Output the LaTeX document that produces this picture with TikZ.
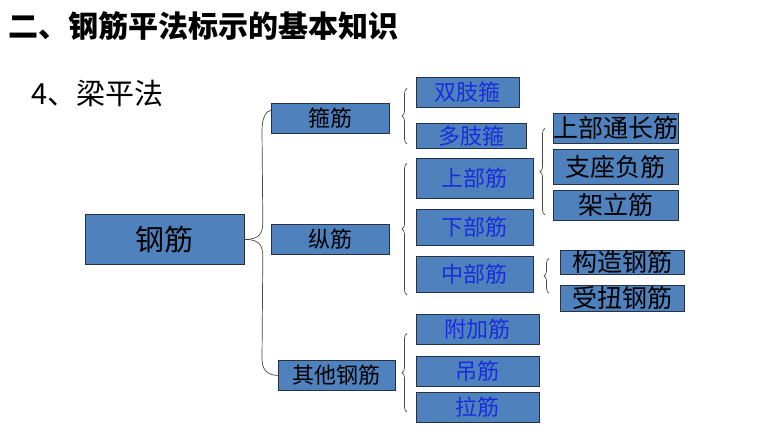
\documentclass[tikz,border=0pt]{standalone}
\usepackage{fontspec}
\setmainfont{Noto Sans CJK SC}
\usetikzlibrary{positioning,calc,decorations.pathreplacing}
\definecolor{blauquadre}{RGB}{79,129,189}
\definecolor{blautext}{RGB}{25,45,220}
\definecolor{vora}{RGB}{40,50,70}
\definecolor{clau}{RGB}{70,70,70}
\newcommand{\mida}[1]{\fontsize{#1}{#1}\selectfont}
\tikzset{
    Caixa/.style={draw=vora, line width=0.8pt, fill=blauquadre, rectangle, inner sep=0pt, anchor=north west},
    Arrel/.style={Caixa, font=\mida{29}},
    Grup/.style={Caixa, font=\mida{22}},
    Tipus/.style={Caixa, text=blautext, font=\mida{22}},
    Detall/.style={Caixa, font=\mida{25}},
    Clau/.style={draw=clau, line width=0.7pt},
    ClauPetita/.style={Clau, decorate, decoration={brace, amplitude=5pt}}
    }
\begin{document}
\begin{tikzpicture}[x=1pt, y=-1pt]
\useasboundingbox (0,0) rectangle (760,431);

\node[font=\mida{30}\bfseries, anchor=west, inner sep=0pt] (Titol) at (8,26) {二、钢筋平法标示的基本知识};
\node[font=\mida{29}, anchor=west, inner sep=0pt] (Subtitol) at (31,93) {4、梁平法};

\node[Arrel, minimum width=159pt, minimum height=50pt] (Rebar) at (85,214) {钢筋};
\node[Grup, minimum width=118pt, minimum height=30pt] (Stirrup) at (271,103) {箍筋};
\node[Grup, minimum width=118pt, minimum height=30pt] (Long) at (271,224) {纵筋};
\node[Grup, minimum width=117pt, minimum height=30pt] (Other) at (278,360) {其他钢筋};

%\draw[red] (Rebar.east) -- (Long.west);
\draw[Clau] (Rebar.east) .. controls +(15,0) and +(0,12) .. ++(18,-18) -- ($(Stirrup.west)+(-9,12)$) .. controls +(0,-14) and +(-4,0) .. ($(Stirrup.west)+(0,-8)$);
\draw[Clau] (Rebar.east) .. controls +(15,0) and +(0,-12) .. ++(18,18) -- ($(Other.west)+(-16,-16)$) .. controls +(0,14) and +(-6,0) .. (Other.west);

\node[Tipus, minimum width=103pt, minimum height=30pt] (Double) at (416,77) {双肢箍};
\node[Tipus, minimum width=110pt, minimum height=25pt] (Multi) at (416,123) {多肢箍};
\draw[ClauPetita] ($(Multi.west)+(-9,8)$) -- ($(Double.west)+(-9,-4)$);

\node[Tipus, minimum width=117pt, minimum height=40pt] (Top) at (416,158) {上部筋};
\node[Tipus, minimum width=117pt, minimum height=36pt, below=10pt of Top] (Bottom) {下部筋};
\node[Tipus, minimum width=117pt, minimum height=36pt, below=10pt of Bottom] (Middle) {中部筋};
\draw[ClauPetita] ($(Middle.west)+(-9,21)$) -- ($(Top.west)+(-9,-15)$);

\node[Tipus, minimum width=123pt, minimum height=30pt] (Extra) at (416,314) {附加筋};
\node[Tipus, minimum width=123pt, minimum height=30pt, below=11pt of Extra] (Hanger) {吊筋};
\node[Tipus, minimum width=123pt, minimum height=30pt, below=5pt of Hanger] (Tie) {拉筋};
\draw[ClauPetita] ($(Tie.west)+(-9,5)$) -- ($(Extra.west)+(-9,4)$);

\node[Detall, minimum width=125pt, minimum height=30pt] (TopCont) at (553,113) {上部通长筋};
\node[Detall, minimum width=125pt, minimum height=35pt, below=5pt of TopCont] (Support) {支座负筋};
\node[Detall, minimum width=125pt, minimum height=30pt, below=5pt of Support] (Erect) {架立筋};
\draw[ClauPetita] ($(Erect.west)+(-8,10)$) -- ($(TopCont.west)+(-8,0)$);

\node[Detall, minimum width=124pt, minimum height=24pt] (Constr) at (560,250) {构造钢筋};
\node[Detall, minimum width=124pt, minimum height=26pt, below=10pt of Constr] (Torsion) {受扭钢筋};
\draw[ClauPetita] ($(Torsion.west)+(-11,-5)$) -- ($(Constr.west)+(-11,-4)$);

\end{tikzpicture}
\end{document}
